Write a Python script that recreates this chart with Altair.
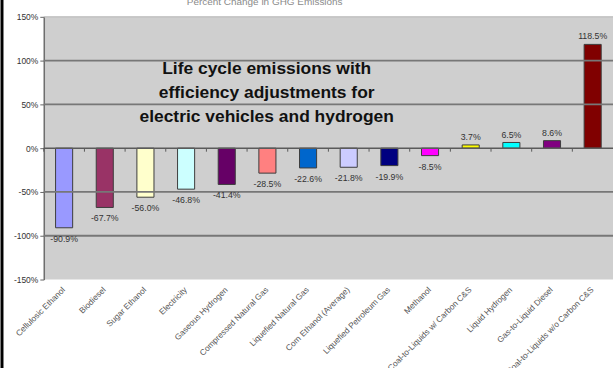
import altair as alt
import pandas as pd

# Fuel pathways and their percent change in life cycle GHG emissions
fuels = [
    "Cellulosic Ethanol", "Biodiesel", "Sugar Ethanol", "Electricity",
    "Gaseous Hydrogen", "Compressed Natural Gas", "Liquefied Natural Gas",
    "Corn Ethanol (Average)", "Liquefied Petroleum Gas", "Methanol",
    "Coal-to-Liquids w/ Carbon C&S", "Liquid Hydrogen", "Gas-to-Liquid Diesel",
    "Coal-to-Liquids w/o Carbon C&S",
]
change = [-90.9, -67.7, -56.0, -46.8, -41.4, -28.5, -22.6, -21.8, -19.9,
          -8.5, 3.7, 6.5, 8.6, 118.5]
colors = ["#9999FF", "#993366", "#FFFFCC", "#CCFFFF", "#660066", "#FF8080",
          "#0066CC", "#CCCCFF", "#000080", "#FF00FF", "#FFFF00", "#00FFFF",
          "#800080", "#800000"]
y_ticks = [-150, -100, -50, 0, 50, 100, 150]
grid_vals = [-100, -50, 50, 100]

FONT = "Liberation Sans"

df = pd.DataFrame({"fuel": fuels, "pct": change})

x_enc = alt.X(
    "fuel:N", sort=fuels, title=None,
    scale=alt.Scale(paddingInner=0, paddingOuter=0),
    axis=alt.Axis(labelAngle=-45, labelAlign="right", labelBaseline="middle",
                  labelFontSize=8.3, labelColor="#555555", labelFont=FONT,
                  labelPadding=9, ticks=False, domain=False, labelOverlap=False,
                  labelLimit=0),
)
x_plain = alt.X("fuel:N", sort=fuels, title=None)
y_scale = alt.Scale(domain=[-150, 150], nice=False, zero=False)
y_enc = alt.Y(
    "pct:Q", scale=y_scale, title=None,
    axis=alt.Axis(values=y_ticks, labelExpr="datum.value + '%'", grid=False,
                  labelFontSize=8.5, labelColor="#333333", labelFont=FONT,
                  tickSize=4, tickColor="#666666", domainColor="#6e6e6e",
                  domainWidth=1.5, labelPadding=2),
)

base = alt.Chart(df)

bars = base.mark_bar(
    width={"band": 0.42}, stroke="#3c3c3c", strokeWidth=1
).encode(
    x=x_enc,
    y=y_enc,
    y2=alt.datum(0),
    color=alt.Color("fuel:N", sort=fuels,
                    scale=alt.Scale(domain=fuels, range=colors), legend=None),
)

grid = alt.Chart(pd.DataFrame({"g": grid_vals})).mark_rule(
    color="#777777", strokeWidth=1.8
).encode(y=alt.Y("g:Q", scale=y_scale, title=None))

top_line = alt.Chart(pd.DataFrame({"g": [150]})).mark_rule(
    color="#b5b5b5", strokeWidth=1
).encode(y=alt.Y("g:Q", scale=y_scale, title=None))

zero = alt.Chart(pd.DataFrame({"z": [0]})).mark_rule(
    color="#5a5a5a", strokeWidth=1.5
).encode(y=alt.Y("z:Q", scale=y_scale, title=None))

# small category-boundary ticks hanging below the zero line
ticks = base.transform_calculate(t0="0", t1="-4").mark_rule(
    color="#5a5a5a", strokeWidth=1
).encode(
    x=alt.X("fuel:N", sort=fuels, bandPosition=0, title=None),
    y=alt.Y("t0:Q", scale=y_scale, title=None),
    y2="t1:Q",
)

labelled = base.transform_calculate(
    lab="(datum.pct < 0 ? '-' : '') + format(abs(datum.pct), '.1f') + '%'"
)
label_style = dict(fontSize=8.8, font=FONT, color="#333333", baseline="middle")

labels_up = labelled.transform_filter("datum.pct > 0").mark_text(
    dy=-8, **label_style
).encode(
    x=x_plain,
    y=alt.Y("pct:Q", scale=y_scale, title=None),
    text="lab:N",
)
labels_down = labelled.transform_filter("datum.pct <= 0").mark_text(
    dy=11, **label_style
).encode(
    x=x_plain,
    y=alt.Y("pct:Q", scale=y_scale, title=None),
    text="lab:N",
)

overlay = alt.Chart(pd.DataFrame({"a": [0]})).mark_text(
    fontSize=17.5, fontWeight="bold", font=FONT, color="#111111",
    align="center", baseline="middle", lineHeight=24.5,
).encode(
    x=alt.value(224), y=alt.value(52),
    text=alt.value(["Life cycle emissions with",
                    "efficiency adjustments for",
                    "electric vehicles and hydrogen"]),
)

heading = alt.Chart(pd.DataFrame({"a": [0]})).mark_text(
    fontSize=10, font=FONT, color="#8a8a8a", align="center",
    baseline="middle",
).encode(
    x=alt.value(222), y=alt.value(-15),
    text=alt.value("Percent Change in GHG Emissions"),
)

frame = alt.Chart(pd.DataFrame({"a": [0]})).mark_rule(
    color="#000000", strokeWidth=3
).encode(x=alt.value(-42), y=alt.value(-20), y2=alt.value(360))

chart = alt.layer(
    bars, top_line, grid, zero, ticks, labels_up, labels_down, overlay,
    heading, frame
).properties(
    width=572, height=264,
    autosize=alt.AutoSizeParams(type="none"),
    padding={"left": 44, "top": 16, "right": 0, "bottom": 88},
    background="white",
).configure_view(fill="#cfcfcf", stroke=None)

chart.save("out.html", embed_options={"renderer": "svg", "actions": False})
